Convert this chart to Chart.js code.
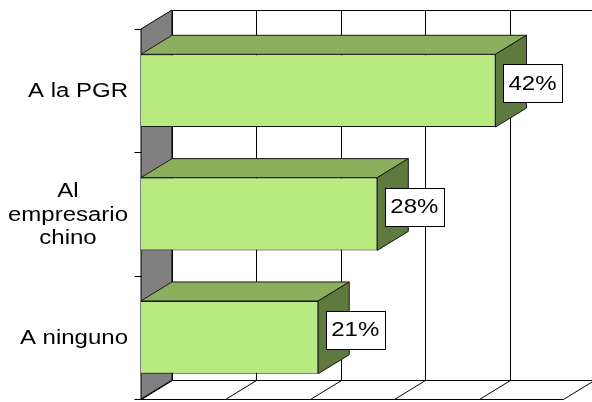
<!DOCTYPE html>
<html>
<head>
<meta charset="utf-8">
<script src="https://cdn.jsdelivr.net/npm/chart.js@4/dist/chart.umd.min.js"></script>
<style>
    body { margin: 0; background: #fff; }
    canvas { display: block; }
</style>
</head>
<body>
<canvas id="chart" width="592" height="402"></canvas>
<script>
// Данные
const categories = ['A la PGR', ['Al', 'empresario', 'chino'], 'A ninguno'];
const values = [42, 28, 21];
const xTicks = [0, 10, 20, 30, 40, 50];

// Смещение глубины (псевдо-3D)
const DX = 31;
const DY = -19;
const STRETCH = 1.2;
const FONT = '20px "Liberation Sans", Arial, sans-serif';

function crisp(v) {
    return Math.round(v) + 0.5;
}

function line(ctx, x1, y1, x2, y2) {
    ctx.beginPath();
    ctx.moveTo(crisp(x1), crisp(y1));
    ctx.lineTo(crisp(x2), crisp(y2));
    ctx.stroke();
}

function poly(ctx, pts, fill) {
    ctx.beginPath();
    pts.forEach((p, i) => i ? ctx.lineTo(p[0], p[1]) : ctx.moveTo(p[0], p[1]));
    ctx.closePath();
    ctx.fillStyle = fill;
    ctx.fill();
    ctx.stroke();
}

// Текст с растяжкой по горизонтали, как в оригинале
function stretchedText(ctx, text, x, y, align) {
    ctx.save();
    ctx.translate(x, y);
    ctx.scale(STRETCH, 1);
    ctx.textAlign = align;
    ctx.textBaseline = 'middle';
    ctx.fillText(text, 0, 0);
    ctx.restore();
}

const box3d = {
    id: 'box3d',
    beforeDraw(chart) {
        const { ctx, chartArea: a, scales: { x } } = chart;
        const bl = a.left + DX, bt = a.top + DY, br = a.right + DX, bb = a.bottom + DY;

        ctx.save();
        ctx.fillStyle = '#fff';
        ctx.fillRect(0, 0, chart.width, chart.height);
        ctx.strokeStyle = '#000';
        ctx.lineWidth = 1;

        // задняя стенка и сетка
        line(ctx, bl, bt, br, bt);
        xTicks.forEach(t => {
            const px = x.getPixelForValue(t) + DX;
            line(ctx, px, bt, px, bb);
            line(ctx, px, bb, px - DX, a.bottom);
        });
        line(ctx, bl, bb, br, bb);
        line(ctx, a.left, a.bottom, a.right, a.bottom);

        // левая стенка
        poly(ctx, [[a.left, a.top], [bl, bt], [bl, bb], [a.left, a.bottom]], '#808080');

        // засечки по оси категорий
        const step = (a.bottom - a.top) / categories.length;
        for (let k = 0; k <= categories.length; k++) {
            const yy = a.top + k * step;
            line(ctx, a.left - 7, yy, a.left, yy);
        }
        ctx.restore();
    },
    beforeDatasetsDraw(chart) {
        const { ctx } = chart;
        const meta = chart.getDatasetMeta(0);
        ctx.save();
        ctx.strokeStyle = '#1a1a1a';
        ctx.lineWidth = 1;
        meta.data.forEach(bar => {
            const top = bar.y - bar.height / 2;
            const bottom = bar.y + bar.height / 2;
            // верхняя грань
            poly(ctx, [[bar.base, top], [bar.base + DX, top + DY], [bar.x + DX, top + DY], [bar.x, top]], '#8CAF5E');
            // боковая грань
            poly(ctx, [[bar.x, top], [bar.x + DX, top + DY], [bar.x + DX, bottom + DY], [bar.x, bottom]], '#5E7A3E');
        });
        ctx.restore();
    },
    afterDatasetsDraw(chart) {
        const { ctx, chartArea: a, scales: { y } } = chart;
        const meta = chart.getDatasetMeta(0);
        ctx.save();
        ctx.font = FONT;
        ctx.lineWidth = 1;

        // подписи значений
        meta.data.forEach((bar, i) => {
            const cx = bar.x + 37;
            const cy = bar.y - 7.5;
            const w = 59, h = 38;
            ctx.fillStyle = '#fff';
            ctx.strokeStyle = '#000';
            ctx.fillRect(Math.round(cx - w / 2), Math.round(cy - h / 2), w, h);
            ctx.strokeRect(crisp(cx - w / 2), crisp(cy - h / 2), w, h);
            ctx.fillStyle = '#000';
            stretchedText(ctx, values[i] + '%', cx, cy + 1, 'center');
        });

        // подписи категорий (многострочные — по центру блока)
        ctx.fillStyle = '#000';
        const right = a.left - 13;
        categories.forEach((label, i) => {
            const lines = Array.isArray(label) ? label : [label];
            const maxW = Math.max(...lines.map(t => ctx.measureText(t).width)) * STRETCH;
            const cy = y.getPixelForValue(i);
            const lh = 23.5;
            lines.forEach((txt, j) => {
                const ly = cy + (j - (lines.length - 1) / 2) * lh;
                if (lines.length > 1) {
                    stretchedText(ctx, txt, right - maxW / 2, ly + 1, 'center');
                } else {
                    stretchedText(ctx, txt, right, ly + 1, 'right');
                }
            });
        });
        ctx.restore();
    }
};

new Chart(document.getElementById('chart'), {
    type: 'bar',
    data: {
        labels: categories,
        datasets: [{
            data: values,
            backgroundColor: '#B8EA80',
            borderColor: '#1a1a1a',
            borderWidth: 1,
            barPercentage: 0.59,
            categoryPercentage: 1
        }]
    },
    options: {
        indexAxis: 'y',
        responsive: false,
        animation: false,
        events: [],
        layout: {
            padding: { left: 141, top: 29, right: 29, bottom: 3 }
        },
        plugins: {
            legend: { display: false },
            tooltip: { enabled: false }
        },
        scales: {
            x: { type: 'linear', min: 0, max: 50, display: false },
            y: { display: false }
        }
    },
    plugins: [box3d]
});
</script>
</body>
</html>
